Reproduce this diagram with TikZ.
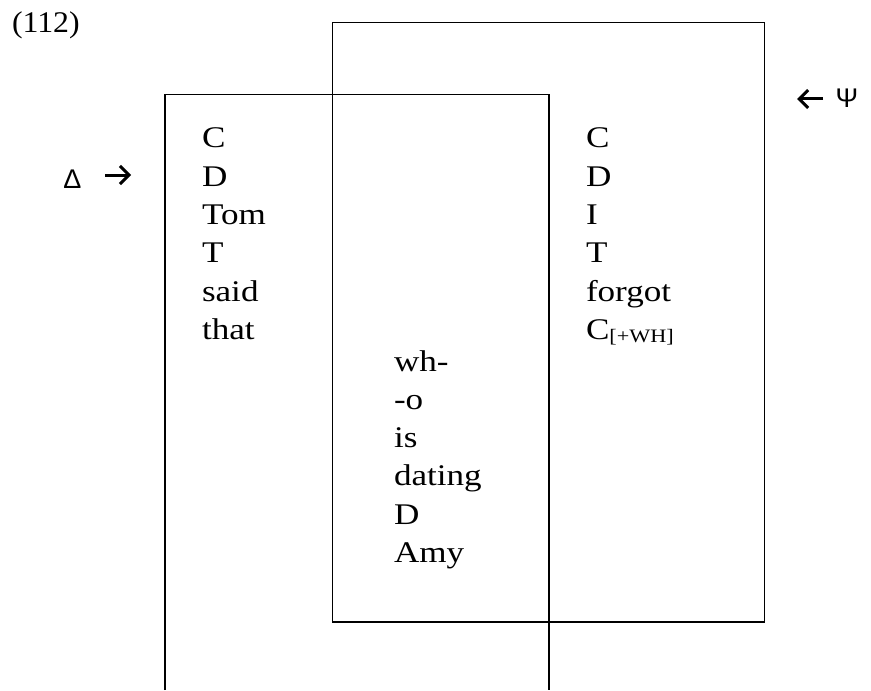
\documentclass[tikz,border=0pt]{standalone}
\usepackage{fontspec}
\setmainfont{Liberation Serif}[FakeStretch=1.17]
\newfontfamily\numfont{Liberation Serif}[FakeStretch=1.06]
\newfontfamily\greekfont{Liberation Sans}
\usetikzlibrary{arrows.meta}
\begin{document}
\begin{tikzpicture}[x=0.5pt,y=-0.5pt,
  word/.style={anchor=base west,inner sep=0pt,outer sep=0pt,font=\fontsize{15pt}{19pt}\selectfont},
  greek/.style={anchor=base,inner sep=0pt,outer sep=0pt,font=\greekfont\fontsize{13.5pt}{15pt}\selectfont},
  box/.style={line width=0.8pt},
  pointer/.style={line width=1.5pt,-{Straight Barb[length=4.5pt,width=9pt]}}]
\useasboundingbox (0,0) rectangle (871,690);
% frames
\draw[box] (332.5,22.5) rectangle (764.5,622);
\draw[box] (165,690) -- (165,94.5) -- (549,94.5) -- (549,690);
% label
\node[word,font=\numfont\fontsize{15pt}{19pt}\selectfont] (num) at (12,33) {(112)};
% left column
\foreach \w [count=\i] in {C,D,Tom,T,said,that}
  \node[word] (L\i) at (202,{148+38.3*(\i-1)}) {\w};
% right column
\foreach \w [count=\i] in {C,D,I,T,forgot}
  \node[word] (R\i) at (586,{148+38.3*(\i-1)}) {\w};
\node[word] (R6) at (586,{148+38.3*5}) {C\raisebox{-1.6pt}{\fontsize{9.5pt}{9.5pt}\selectfont[+WH]}};
% middle column
\foreach \w [count=\i] in {wh-,-o,is,dating,D,Amy}
  \node[word] (M\i) at (394,{371+38.3*(\i-1)}) {\w};
% greek labels with arrows
\node[greek] (delta) at (72.5,188) {Δ};
\coordinate (da) at (105,175);
\coordinate (db) at (131,175);
\draw[pointer] (da) -- (db);
\node[greek] (psi) at (847,107) {Ψ};
\coordinate (pa) at (823,99);
\coordinate (pb) at (797,99);
\draw[pointer] (pa) -- (pb);
\end{tikzpicture}
\end{document}
